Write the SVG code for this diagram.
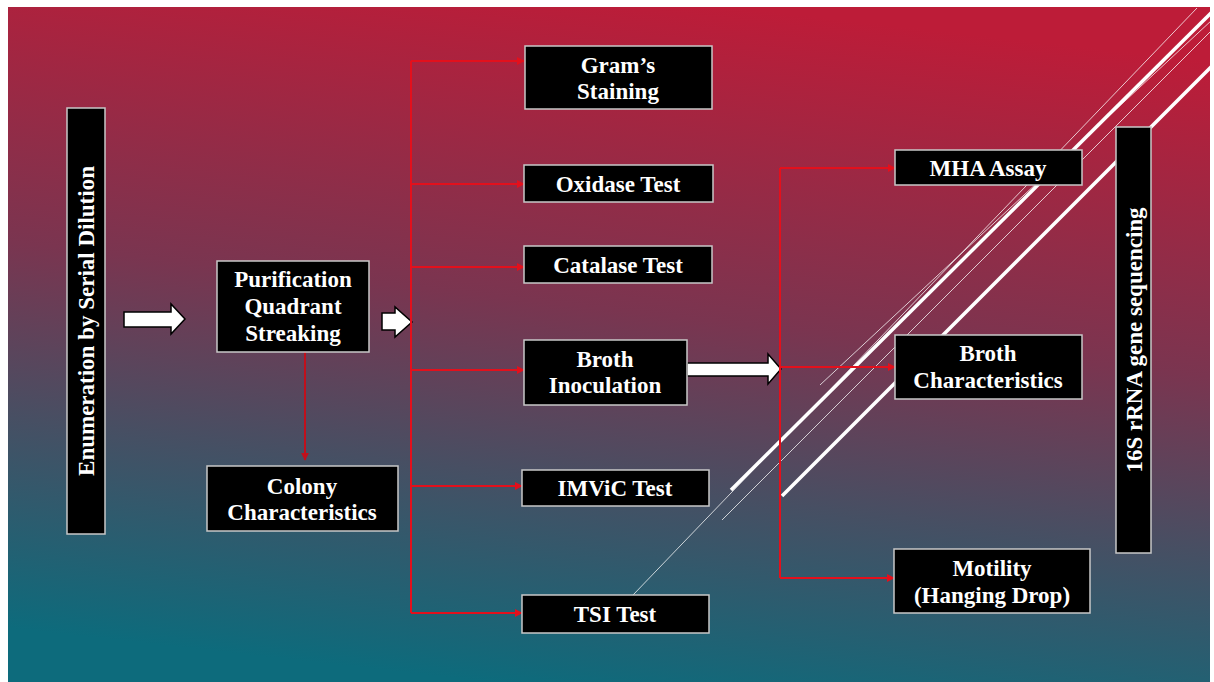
<svg xmlns="http://www.w3.org/2000/svg" width="1214" height="682" viewBox="0 0 1214 682">
  <defs>
    <linearGradient id="bg" x1="0.6" y1="0" x2="0.4" y2="1">
      <stop offset="0" stop-color="#bd1c38"/>
      <stop offset="0.45" stop-color="#7a3550"/>
      <stop offset="0.7" stop-color="#474f63"/>
      <stop offset="1" stop-color="#0d6b7c"/>
    </linearGradient>
    <clipPath id="slide"><rect x="8" y="7" width="1202" height="675"/></clipPath>
    <marker id="ah" viewBox="0 0 10 10" refX="9" refY="5" markerWidth="8" markerHeight="8" markerUnits="userSpaceOnUse" orient="auto">
      <path d="M0,0 L10,5 L0,10 z" fill="#e3101c"/>
    </marker>
    <marker id="ah2" viewBox="0 0 10 10" refX="9" refY="5" markerWidth="8" markerHeight="8" markerUnits="userSpaceOnUse" orient="auto">
      <path d="M0,0 L10,5 L0,10 z" fill="#c0101c"/>
    </marker>
  </defs>
  <style>
    .box { fill: #000; stroke: #c8c8c8; stroke-width: 1.5; }
    .t { font-family: "Liberation Serif", "Times New Roman", serif; font-weight: bold; font-size: 23px; fill: #fff; text-anchor: middle; }
    .red { stroke: #e3101c; stroke-width: 2; fill: none; }
    .blk { fill: #fff; stroke: #000; stroke-width: 1.5; stroke-linejoin: miter; }
    .thin { stroke: #fff; stroke-width: 1; opacity: 0.75; }
    .thick { stroke: #fff; stroke-width: 3.5; }
  </style>

  <rect x="0" y="0" width="1214" height="682" fill="#fff"/>
  <rect x="8" y="7" width="1202" height="675" fill="url(#bg)"/>

  <g id="decor" clip-path="url(#slide)">
    <line class="thin" x1="633" y1="595" x2="1197" y2="8"/>
    <line class="thin" x1="722" y1="520" x2="1212" y2="30"/>
    <line class="thin" x1="820" y1="385" x2="1212" y2="20"/>
    <line class="thick" x1="731" y1="490" x2="1212" y2="12"/>
    <line class="thick" x1="782" y1="496" x2="1212" y2="66"/>
  </g>

  <g id="connectors">
    <polygon class="blk" points="124,312 171,312 171,304 185,319 171,334 171,327 124,327"/>
    <polygon class="blk" points="382,313 395,313 395,307 412,322 395,337 395,330 382,330"/>
    <polygon class="blk" points="687,363 768,363 768,354 781,369 768,384 768,376 687,376"/>
    <path class="red" d="M411,61 V613"/>
    <path class="red" d="M411,61 H524" marker-end="url(#ah)"/>
    <path class="red" d="M411,184 H524" marker-end="url(#ah)"/>
    <path class="red" d="M411,267 H524" marker-end="url(#ah)"/>
    <path class="red" d="M411,370 H524" marker-end="url(#ah)"/>
    <path class="red" d="M411,486 H522" marker-end="url(#ah)"/>
    <path class="red" d="M411,613 H522" marker-end="url(#ah)"/>
    <path class="red" d="M780,168 V578"/>
    <path class="red" d="M780,168 H895" marker-end="url(#ah)"/>
    <path class="red" d="M780,367 H895" marker-end="url(#ah)"/>
    <path class="red" d="M780,578 H894" marker-end="url(#ah)"/>
    <path d="M305,352 V460" stroke="#c0101c" stroke-width="2" fill="none" marker-end="url(#ah2)"/>
  </g>

  <g id="enumeration">
    <rect class="box" x="67" y="108" width="38" height="426"/>
    <text class="t" transform="translate(94,321) rotate(-90)" x="0" y="0">Enumeration by Serial Dilution</text>
  </g>
  <g id="purification">
    <rect class="box" x="217" y="261" width="152" height="91"/>
    <text class="t" x="293" y="287">Purification</text>
    <text class="t" x="293" y="314">Quadrant</text>
    <text class="t" x="293" y="341">Streaking</text>
  </g>
  <g id="colony">
    <rect class="box" x="207" y="466" width="191" height="65"/>
    <text class="t" x="302" y="494">Colony</text>
    <text class="t" x="302" y="520">Characteristics</text>
  </g>
  <g id="grams">
    <rect class="box" x="525" y="46" width="187" height="63"/>
    <text class="t" x="618" y="73">Gram’s</text>
    <text class="t" x="618" y="99">Staining</text>
  </g>
  <g id="oxidase">
    <rect class="box" x="524" y="165" width="189" height="37"/>
    <text class="t" x="618" y="192">Oxidase Test</text>
  </g>
  <g id="catalase">
    <rect class="box" x="524" y="246" width="188" height="37"/>
    <text class="t" x="618" y="273">Catalase Test</text>
  </g>
  <g id="broth-inoculation">
    <rect class="box" x="524" y="340" width="163" height="65"/>
    <text class="t" x="605" y="367">Broth</text>
    <text class="t" x="605" y="393">Inoculation</text>
  </g>
  <g id="imvic">
    <rect class="box" x="522" y="470" width="187" height="36"/>
    <text class="t" x="615" y="496">IMViC Test</text>
  </g>
  <g id="tsi">
    <rect class="box" x="522" y="595" width="187" height="38"/>
    <text class="t" x="615" y="622">TSI Test</text>
  </g>
  <g id="mha">
    <rect class="box" x="895" y="150" width="187" height="35"/>
    <text class="t" x="988" y="176">MHA Assay</text>
  </g>
  <g id="broth-characteristics">
    <rect class="box" x="895" y="335" width="187" height="64"/>
    <text class="t" x="988" y="361">Broth</text>
    <text class="t" x="988" y="388">Characteristics</text>
  </g>
  <g id="motility">
    <rect class="box" x="894" y="549" width="196" height="64"/>
    <text class="t" x="992" y="576">Motility</text>
    <text class="t" x="992" y="603">(Hanging Drop)</text>
  </g>
  <g id="sequencing">
    <rect class="box" x="1116" y="127" width="35" height="426"/>
    <text class="t" transform="translate(1142,340) rotate(-90)" x="0" y="0">16S rRNA gene sequencing</text>
  </g>
</svg>
